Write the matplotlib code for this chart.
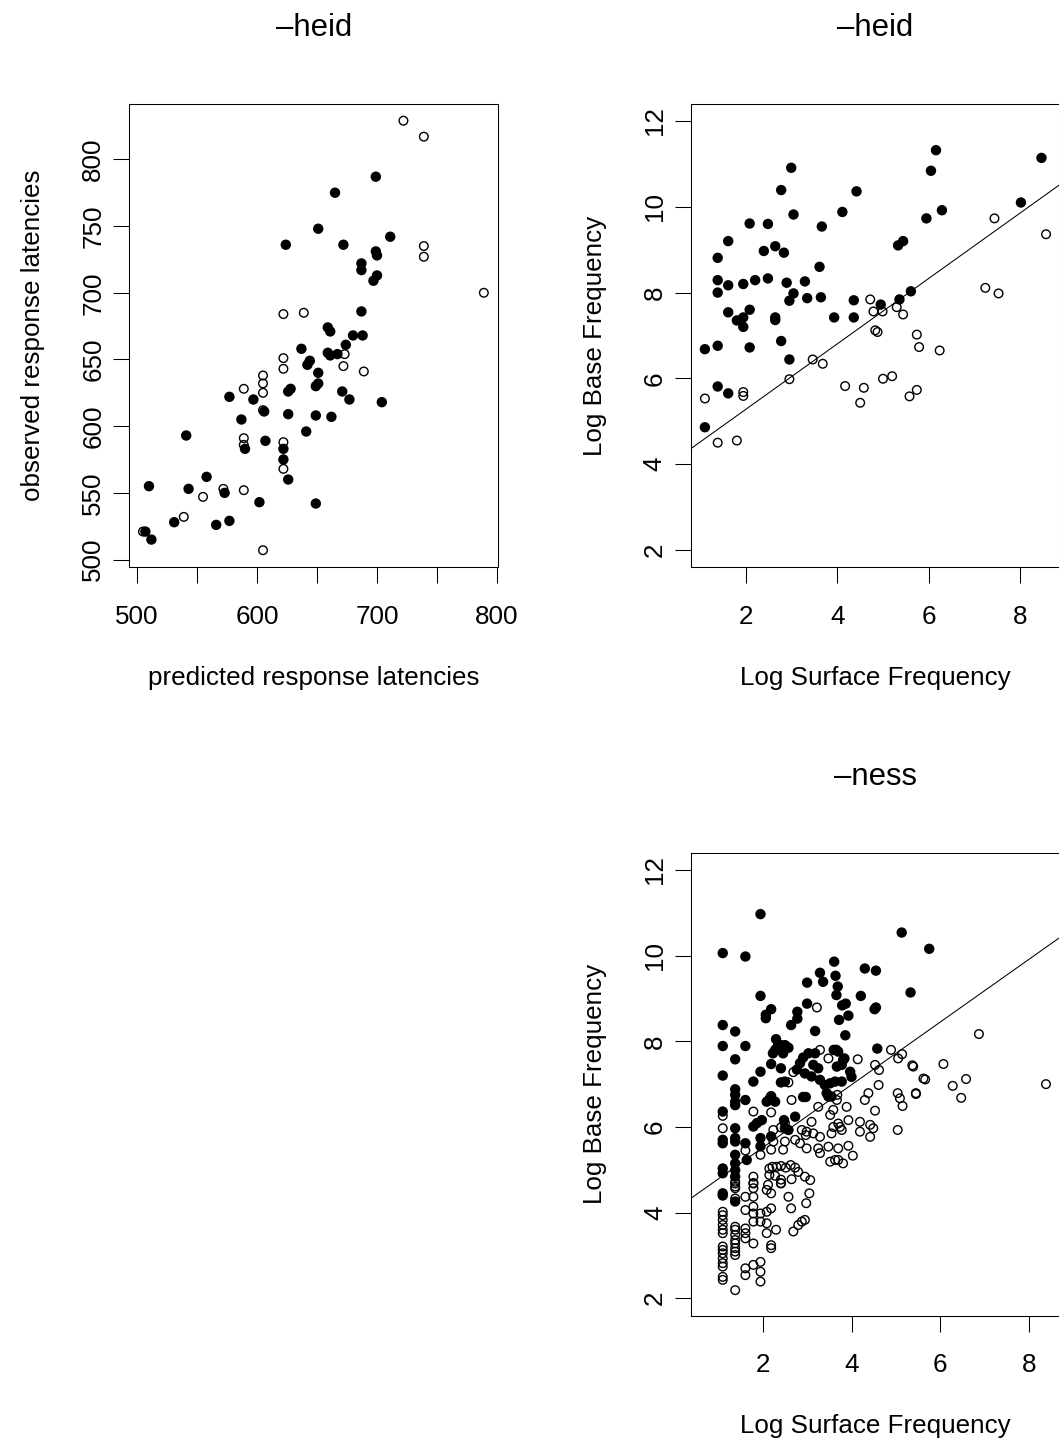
import matplotlib
matplotlib.use('Agg')
import matplotlib.pyplot as plt

plt.rcParams['font.family'] = ['Liberation Sans', 'DejaVu Sans']

# ---------------- data ----------------
# Panel 1 (-heid): predicted vs observed response latencies
heid_pred_filled = [699, 665, 651, 624, 672, 711, 699, 700, 687, 687, 700, 697, 687, 659, 661, 680, 688, 674,
                    637, 659, 661, 667, 644, 642, 651, 577, 597, 587, 626, 628, 649, 651, 671, 677, 704, 606,
                    626, 649, 662, 641, 607, 590, 622, 622, 626, 541, 558, 543, 510, 602, 649, 531, 566, 577,
                    512, 573, 507]
heid_obs_filled = [787, 775, 748, 736, 736, 742, 731, 728, 722, 717, 713, 709, 686, 674, 671, 668, 668, 661,
                   658, 655, 653, 654, 649, 646, 640, 622, 620, 605, 626, 628, 630, 632, 626, 620, 618, 611,
                   609, 608, 607, 596, 589, 583, 583, 575, 560, 593, 562, 553, 555, 543, 542, 528, 526, 529,
                   515, 550, 521]
heid_pred_open = [722, 739, 739, 739, 789, 622, 639, 673, 672, 689, 622, 622, 605, 605, 589, 605, 605, 589,
                  589, 622, 622, 572, 589, 555, 539, 505, 605]
heid_obs_open = [829, 817, 735, 727, 700, 684, 685, 654, 645, 641, 651, 643, 638, 632, 628, 625, 612, 591,
                 586, 588, 568, 553, 552, 547, 532, 521, 507]

# Panel 2 (-heid): log surface vs log base frequency
heid_sf_filled = [6.16, 8.47, 2.99, 6.05, 2.77, 4.42, 8.02, 6.29, 4.11, 3.04, 5.95, 2.08, 2.48, 3.66, 1.61,
                  5.44, 5.33, 2.64, 2.39, 2.83, 1.38, 3.61, 1.38, 2.20, 2.48, 3.29, 2.89, 1.94, 1.61, 5.61,
                  1.38, 3.04, 2.95, 3.34, 3.64, 4.36, 5.36, 4.95, 2.08, 1.61, 1.94, 1.80, 1.94, 2.64, 2.64,
                  3.93, 4.36, 2.77, 1.38, 1.10, 2.08, 2.95, 1.38, 1.61, 1.10]
heid_bf_filled = [11.32, 11.14, 10.91, 10.84, 10.39, 10.36, 10.10, 9.92, 9.88, 9.82, 9.73, 9.61, 9.60, 9.54,
                  9.20, 9.20, 9.10, 9.08, 8.97, 8.93, 8.81, 8.60, 8.29, 8.29, 8.33, 8.26, 8.23, 8.20, 8.17,
                  8.03, 8.00, 7.98, 7.81, 7.87, 7.89, 7.82, 7.84, 7.72, 7.60, 7.54, 7.42, 7.35, 7.20, 7.42,
                  7.36, 7.42, 7.42, 6.87, 6.76, 6.68, 6.72, 6.44, 5.81, 5.65, 4.86]
heid_sf_open = [7.44, 8.57, 7.24, 7.53, 4.72, 4.79, 4.99, 5.30, 5.44, 4.83, 4.88, 5.74, 5.79, 6.24, 3.46,
                3.68, 2.95, 1.10, 1.94, 1.94, 4.17, 4.58, 4.50, 5.00, 5.20, 5.74, 5.58, 1.38, 1.80]
heid_bf_open = [9.73, 9.36, 8.11, 7.98, 7.84, 7.56, 7.56, 7.66, 7.49, 7.12, 7.08, 7.02, 6.73, 6.65, 6.44,
                6.34, 5.98, 5.53, 5.68, 5.59, 5.82, 5.78, 5.43, 5.99, 6.05, 5.73, 5.58, 4.50, 4.55]
heid_line = (3.757, 0.762)   # intercept, slope

# Panel 3 (-ness): log surface vs log base frequency
ness_sf_filled = [1.95, 5.13, 1.10, 1.61, 3.61, 4.30, 4.55, 3.29, 3.64, 3.00, 3.36, 3.69, 1.95, 3.66, 4.21,
                  5.33, 3.00, 3.79, 3.87, 4.52, 4.55, 2.19, 2.07, 2.07, 2.78, 2.78, 2.64, 3.72, 3.93, 1.10,
                  1.38, 3.18, 3.86, 1.10, 1.61, 2.30, 3.60, 3.66, 4.58, 3.84, 5.75,
                  1.38, 1.10, 1.38, 1.38, 1.38, 1.38, 1.61, 1.79, 1.95, 2.19, 2.23, 2.28, 2.34, 2.50, 2.58,
                  2.46, 2.41, 2.41, 2.50, 2.15, 2.19, 2.28, 2.09, 2.91, 2.97, 3.10, 1.10, 1.38, 1.79, 1.87,
                  1.98, 1.10, 1.10, 1.38, 1.38, 1.61, 1.95, 1.95, 2.19, 2.48, 2.50, 2.58, 2.73, 1.10, 1.10,
                  1.38, 1.38, 1.38, 1.38, 1.64, 2.84, 2.91, 3.03, 2.77, 2.95, 2.41, 2.52,
                  1.10, 1.10, 1.38,
                  3.18, 3.70, 3.81, 3.14, 3.25, 3.67, 3.78, 3.97, 4.00, 3.29, 3.40, 3.52, 3.63, 3.78, 3.44,
                  3.48, 3.55]
ness_bf_filled = [10.97, 10.54, 10.06, 9.98, 9.86, 9.70, 9.65, 9.60, 9.53, 9.37, 9.39, 9.28, 9.06, 9.08, 9.06,
                  9.14, 8.88, 8.84, 8.88, 8.75, 8.79, 8.75, 8.62, 8.54, 8.69, 8.53, 8.38, 8.50, 8.60, 8.38,
                  8.23, 8.24, 8.14, 7.89, 7.89, 8.05, 7.80, 7.80, 7.83, 7.60, 10.16,
                  7.58, 7.20, 6.88, 6.75, 6.59, 6.51, 6.63, 7.06, 7.29, 7.47, 7.72, 7.80, 7.89, 7.91, 7.85,
                  7.72, 7.37, 7.04, 7.06, 6.65, 6.72, 6.59, 6.59, 6.70, 6.70, 7.18, 6.36, 5.97, 6.01, 6.09,
                  6.16, 5.70, 5.62, 5.74, 5.66, 5.62, 5.74, 5.55, 5.78, 6.16, 5.97, 5.93, 6.24, 5.03, 4.92,
                  5.35, 5.15, 4.99, 4.84, 5.23, 7.49, 7.62, 7.72, 7.34, 7.25, 7.91, 7.89,
                  4.45, 4.40, 4.26,
                  7.72, 7.76, 7.56, 7.45, 7.37, 7.41, 7.45, 7.29, 7.17, 7.10, 6.98, 7.02, 7.06, 7.06, 6.79,
                  6.71, 6.71]
ness_sf_open = [3.22, 4.89, 5.14, 3.29, 3.48, 4.14, 5.05, 4.53, 4.62, 5.37, 5.62, 4.61, 4.38, 4.30, 5.04,
                5.09, 5.15, 5.45, 3.68, 3.67, 3.25, 3.59, 3.52, 3.89, 4.53, 3.10, 3.93, 3.70, 3.59, 3.74,
                3.55, 3.78, 4.19, 4.19, 4.42, 4.49, 4.42, 5.04, 2.99, 3.14, 3.29, 2.99, 3.25, 3.29, 3.48,
                3.70, 3.93, 4.03, 3.52, 3.63, 3.70, 3.81, 2.95, 3.07,
                6.87, 5.39, 6.07, 5.66, 6.28, 6.58, 6.47, 5.45, 8.38,
                2.69, 2.58, 2.65, 1.79, 2.19, 1.10, 1.10, 2.24, 2.41, 2.50, 2.88, 2.97, 1.61, 1.95, 2.19,
                2.24, 2.46, 2.50, 2.73, 2.84, 1.79, 1.79, 1.38, 1.38,
                2.15, 2.22, 2.31, 2.41, 2.52, 2.63, 2.73, 2.80, 2.15, 2.28, 2.41, 2.65, 2.12, 2.41,
                1.10, 1.10, 1.10, 1.10, 1.10, 1.10, 1.10, 1.10, 1.10, 1.10, 1.10, 1.10, 1.10, 1.10,
                1.38, 1.38, 1.38, 1.38, 1.38, 1.38, 1.38, 1.38, 1.38, 1.38, 1.38, 1.38,
                1.61, 1.61, 1.61, 1.61, 1.61, 1.61, 1.61,
                1.79, 1.79, 1.79, 1.79, 1.79, 1.79, 1.79, 1.79,
                1.95, 1.95, 1.95, 1.95, 1.95,
                2.09, 2.09, 2.09, 2.09,
                2.19, 2.19, 2.19, 2.19,
                2.30, 2.41, 2.58, 2.64, 2.69, 2.80, 2.88, 2.95, 2.98, 3.05]
ness_bf_open = [8.79, 7.80, 7.70, 7.80, 7.60, 7.58, 7.60, 7.45, 7.33, 7.44, 7.13, 6.98, 6.79, 6.63, 6.79,
                6.67, 6.49, 6.79, 6.75, 6.63, 6.47, 6.40, 6.28, 6.47, 6.38, 6.12, 6.16, 6.08, 6.00, 6.00,
                5.85, 5.93, 6.12, 5.89, 6.05, 5.97, 5.77, 5.93, 5.89, 5.85, 5.77, 5.50, 5.50, 5.39, 5.54,
                5.50, 5.56, 5.33, 5.19, 5.23, 5.23, 5.15, 4.84, 4.76,
                8.17, 7.41, 7.47, 7.11, 6.96, 7.12, 6.68, 6.77, 7.00,
                7.28, 7.04, 6.63, 6.36, 6.34, 6.26, 5.97, 5.93, 5.99, 6.09, 5.93, 5.81, 5.45, 5.35, 5.47,
                5.66, 5.47, 5.66, 5.70, 5.62, 4.84, 4.69, 4.72, 4.61,
                5.03, 5.07, 5.07, 5.09, 5.05, 5.11, 5.05, 4.95, 4.88, 4.86, 4.77, 4.78, 4.65, 4.69,
                4.02, 3.94, 3.83, 3.71, 3.60, 3.52, 3.21, 3.13, 3.05, 2.93, 2.82, 2.74, 2.50, 2.43,
                4.68, 4.57, 4.33, 3.67, 3.60, 3.48, 3.36, 3.28, 3.17, 3.09, 3.01, 2.19,
                4.37, 4.06, 3.63, 3.52, 3.40, 2.70, 2.54,
                4.68, 4.57, 4.37, 4.14, 3.98, 3.79, 3.28, 2.78,
                3.98, 3.79, 2.85, 2.62, 2.39,
                4.53, 4.02, 3.75, 3.52,
                4.45, 4.10, 3.24, 3.17,
                3.60, 4.68, 4.37, 4.10, 3.56, 3.71, 3.79, 3.83, 4.22, 4.45]
ness_line = (4.053, 0.733)   # intercept, slope

titles = ['\u2013heid', '\u2013heid', '\u2013ness']
xlabel_lat = 'predicted response latencies'
ylabel_lat = 'observed response latencies'
xlabel_freq = 'Log Surface Frequency'
ylabel_freq = 'Log Base Frequency'

lat_ticks = [500, 550, 600, 650, 700, 750, 800]
lat_xticklabels = ['500', '', '600', '', '700', '', '800']
lat_yticklabels = ['500', '550', '600', '650', '700', '750', '800']
freq_xticks = [2, 4, 6, 8]
freq_yticks = [2, 4, 6, 8, 10, 12]

# ---------------- figure ----------------
W, H = 1059, 1441
DPI = 100
fig = plt.figure(figsize=(W / DPI, H / DPI), dpi=DPI)
fig.patch.set_facecolor('white')

LBL = 18.7
TTL = 22.4
PX = 72.0 / DPI  # points per pixel


def add_axes_px(left, top, width, height):
    return fig.add_axes([left / W, 1 - (top + height) / H, width / W, height / H])


def style(ax, height_px, width_px, title, xlabel, ylabel):
    ax.tick_params(direction='out', length=16 * PX, width=1.05 * PX, labelsize=LBL, colors='black')
    ax.tick_params(axis='x', pad=21.5 * PX)
    ax.tick_params(axis='y', pad=8 * PX)
    for lab in ax.get_yticklabels():
        lab.set_rotation(90)
        lab.set_va('center')
    for s in ax.spines.values():
        s.set_linewidth(1.05 * PX)
    ax.text(0.5, 1 + 68 / height_px, title, transform=ax.transAxes, ha='center', va='baseline',
            fontsize=TTL)
    ax.set_xlabel(xlabel, fontsize=LBL, va='center')
    ax.xaxis.set_label_coords(0.5, -111 / height_px)
    ax.set_ylabel(ylabel, fontsize=LBL, va='center')
    ax.yaxis.set_label_coords(-96 / width_px, 0.5)


def pts(ax, xf, yf, xo, yo):
    ax.scatter(xf, yf, s=(10.4 * PX) ** 2, c='black', edgecolors='none', zorder=3)
    ax.scatter(xo, yo, s=(8.6 * PX) ** 2, facecolors='none', edgecolors='black',
               linewidths=1.4 * PX, zorder=3)


PW = 368.7

# Panel 1
ax1 = add_axes_px(129.3, 104, PW, 463.3)
pts(ax1, heid_pred_filled, heid_obs_filled, heid_pred_open, heid_obs_open)
ax1.set_xlim(493.6, 800.8)
ax1.set_ylim(494.2, 841.5)
ax1.set_xticks(lat_ticks)
ax1.set_xticklabels(lat_xticklabels)
ax1.set_yticks(lat_ticks)
ax1.set_yticklabels(lat_yticklabels)
style(ax1, 463.3, PW, titles[0], xlabel_lat, ylabel_lat)

# Panel 2
ax2 = add_axes_px(690.7, 104, PW, 463.3)
pts(ax2, heid_sf_filled, heid_bf_filled, heid_sf_open, heid_bf_open)
ax2.axline((0, heid_line[0]), slope=heid_line[1], color='black', lw=1.05 * PX)
ax2.set_xlim(0.789, 0.789 + PW / 45.67)
ax2.set_ylim(1.594, 12.397)
ax2.set_xticks(freq_xticks)
ax2.set_xticklabels([str(t) for t in freq_xticks])
ax2.set_yticks(freq_yticks)
ax2.set_yticklabels([str(t) for t in freq_yticks])
style(ax2, 463.3, PW, titles[1], xlabel_freq, ylabel_freq)

# Panel 3
ax3 = add_axes_px(691, 853.3, PW, 462.2)
pts(ax3, ness_sf_filled, ness_bf_filled, ness_sf_open, ness_bf_open)
ax3.axline((0, ness_line[0]), slope=ness_line[1], color='black', lw=1.05 * PX)
ax3.set_xlim(0.385, 0.385 + PW / 44.4)
ax3.set_ylim(1.598, 12.39)
ax3.set_xticks(freq_xticks)
ax3.set_xticklabels([str(t) for t in freq_xticks])
ax3.set_yticks(freq_yticks)
ax3.set_yticklabels([str(t) for t in freq_yticks])
style(ax3, 462.2, PW, titles[2], xlabel_freq, ylabel_freq)

fig.savefig('out.png', dpi=DPI, facecolor='white')
